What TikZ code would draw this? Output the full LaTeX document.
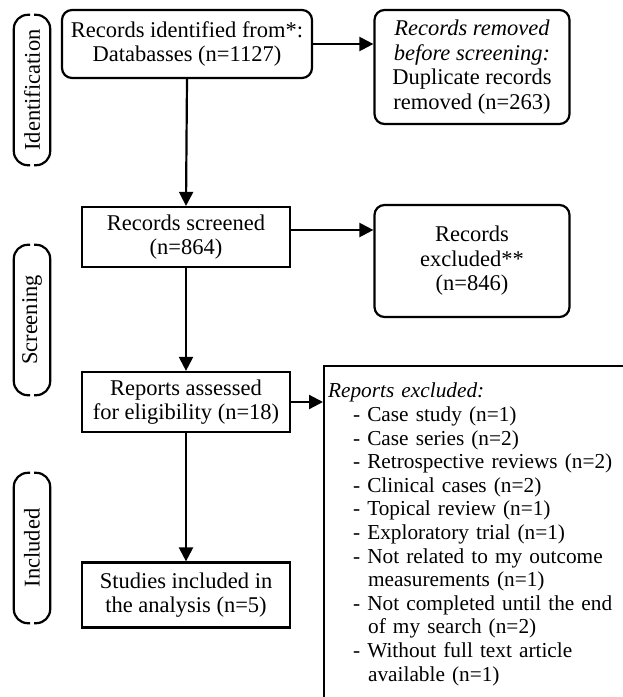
\documentclass[tikz,border=0pt]{standalone}
\usepackage{fontspec}
\setmainfont{Liberation Serif}
\usepackage{tikz}
\usetikzlibrary{arrows.meta}
\usetikzlibrary{positioning}

\begin{document}
\begin{tikzpicture}[x=1pt, y=-1pt,
    box/.style={rectangle, draw, line width=2.2pt, align=center, font=\fontsize{22.5}{24.5}\selectfont},
    roundbox/.style={box, rounded corners=10pt},
    edge/.style={-{Triangle[length=14pt, width=14pt]}, line width=2.2pt},
    stage/.style={minimum width=36pt, minimum height=150pt, inner sep=0pt, font=\fontsize{22.5}{24}\selectfont},
    bracket/.style={line width=2.2pt, rounded corners=14pt}
]
\useasboundingbox (0,0) rectangle (623,697);
\clip (0,0) rectangle (623,697);

% Etapas (izquierda)
\node[stage] (ident) at (32, 90) {\rotatebox{90}{Identification}};
\node[stage] (screen) at (32, 320) {\rotatebox{90}{Screening}};
\node[stage] (incl) at (32, 548) {\rotatebox{90}{Included}};

\draw[bracket] ([xshift=-2pt]ident.north) -| (ident.south west) -- ([xshift=-2pt]ident.south);
\draw[bracket] ([xshift=2pt]ident.north) -| (ident.south east) -- ([xshift=2pt]ident.south);
\draw[bracket] ([xshift=-2pt]screen.north) -| (screen.south west) -- ([xshift=-2pt]screen.south);
\draw[bracket] ([xshift=2pt]screen.north) -| (screen.south east) -- ([xshift=2pt]screen.south);
\draw[bracket] ([xshift=-2pt]incl.north) -| (incl.south west) -- ([xshift=-2pt]incl.south);
\draw[bracket] ([xshift=2pt]incl.north) -| (incl.south east) -- ([xshift=2pt]incl.south);

% Cajas principales
\node[roundbox, minimum width=250pt, minimum height=68pt] (ident1) at (187, 44) {Records identified from*:\\Databasses (n=1127)};
\node[box, minimum width=208pt, minimum height=60pt] (screen1) at (186, 237) {Records screened\\(n=864)};
\node[box, minimum width=208pt, minimum height=60pt] (assess) at (186, 402) {Reports assessed\\for eligibility (n=18)};
\node[box, minimum width=208pt, minimum height=65pt] (studies) at (186, 595) {Studies included in\\the analysis (n=5)};

% Cajas de la derecha
\node[roundbox, minimum width=195pt, minimum height=114pt] (removed) at (472, 67) {\textit{Records removed}\\\textit{before screening:}\\Duplicate records\\removed (n=263)};
\node[roundbox, minimum width=195pt, minimum height=112pt] (excl1) at (472, 261) {Records\\excluded**\\(n=846)};
\node[box, anchor=north west, align=left, text width=300pt, inner xsep=4pt, inner ysep=17pt,
      font=\fontsize{21.3}{23.6}\selectfont] (excl2) at (323, 365) {\textit{Reports excluded:}\\
    \hspace*{25pt}- Case study (n=1)\\
    \hspace*{25pt}- Case series (n=2)\\
    \hspace*{25pt}- Retrospective reviews (n=2)\\
    \hspace*{25pt}- Clinical cases (n=2)\\
    \hspace*{25pt}- Topical review (n=1)\\
    \hspace*{25pt}- Exploratory trial (n=1)\\
    \hspace*{25pt}- Not related to my outcome\\
    \hspace*{40pt}measurements (n=1)\\
    \hspace*{25pt}- Not completed until the end\\
    \hspace*{40pt}of my search (n=2)\\
    \hspace*{25pt}- Without full text article\\
    \hspace*{40pt}available (n=1)\\[20pt]\mbox{}};

% Conexiones verticales
\draw[edge] (ident1.south) -- (screen1.north);
\draw[edge] (screen1) -- (assess);
\draw[edge] (assess) -- (studies);

% Conexiones horizontales
\draw[edge] (ident1.east) -- (ident1.east -| removed.west);
\draw[edge] ([yshift=7pt]screen1.east) -- ([yshift=7pt]screen1.east -| excl1.west);
\draw[edge] (assess.east) -- (assess.east -| excl2.west);

\end{tikzpicture}
\end{document}
